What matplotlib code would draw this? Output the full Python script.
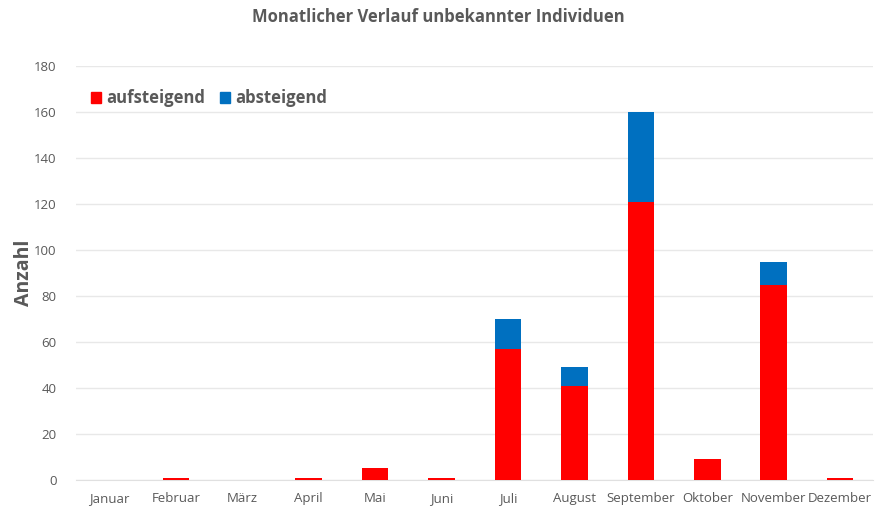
import numpy as np
import matplotlib
matplotlib.use('Agg')
import matplotlib.pyplot as plt
from matplotlib.patches import Patch

plt.rcParams['font.family'] = ['Open Sans', 'DejaVu Sans']

monate      = ['Januar', 'Februar', 'März', 'April', 'Mai', 'Juni',
               'Juli', 'August', 'September', 'Oktober', 'November', 'Dezember']
aufsteigend = [0, 1, 0, 1, 5, 1, 57, 41, 121, 9, 85, 1]
absteigend  = [0, 0, 0, 0, 0, 0, 13, 8, 39, 0, 10, 0]

c_auf  = '#ff0000'
c_ab   = '#0070c0'
c_text = '#595959'

fig = plt.figure(figsize=(8.76, 5.09), dpi=100)
ax  = fig.add_axes([0.087, 0.057, 0.910, 0.813])

x = np.arange(len(monate))
ax.bar(x, aufsteigend, width=0.4, color=c_auf, zorder=3)
ax.bar(x, absteigend, width=0.4, bottom=aufsteigend, color=c_ab, zorder=3)

ax.set_xlim(-0.5, len(monate) - 0.5)
ax.set_ylim(0, 180)
ax.set_yticks(np.arange(0, 181, 20))
ax.set_xticks(x)
ax.set_xticklabels(monate)
ax.grid(axis='y', color='#e8e8e8', linewidth=1.0, zorder=0)
for s in ['top', 'right', 'left']:
    ax.spines[s].set_visible(False)
ax.spines['bottom'].set_color('#e0e0e0')
ax.tick_params(axis='both', length=0, labelsize=9.5, labelcolor=c_text, pad=9)
ax.tick_params(axis='y', pad=14)

ax.set_ylabel('Anzahl', fontsize=14, fontweight='bold', color=c_text, labelpad=0)
fig.suptitle('Monatlicher Verlauf unbekannter Individuen', fontsize=12,
             fontweight='bold', color=c_text, y=0.985)

handles = [Patch(color=c_auf, label='aufsteigend'), Patch(color=c_ab, label='absteigend')]
leg = ax.legend(handles=handles, loc='upper left', bbox_to_anchor=(0.0, 0.98), ncol=2,
                frameon=False, handlelength=0.6, handleheight=0.6, handletextpad=0.3,
                columnspacing=0.9, prop={'size': 12, 'weight': 'bold'})
for t in leg.get_texts():
    t.set_color(c_text)

fig.savefig('out.png', dpi=100)
